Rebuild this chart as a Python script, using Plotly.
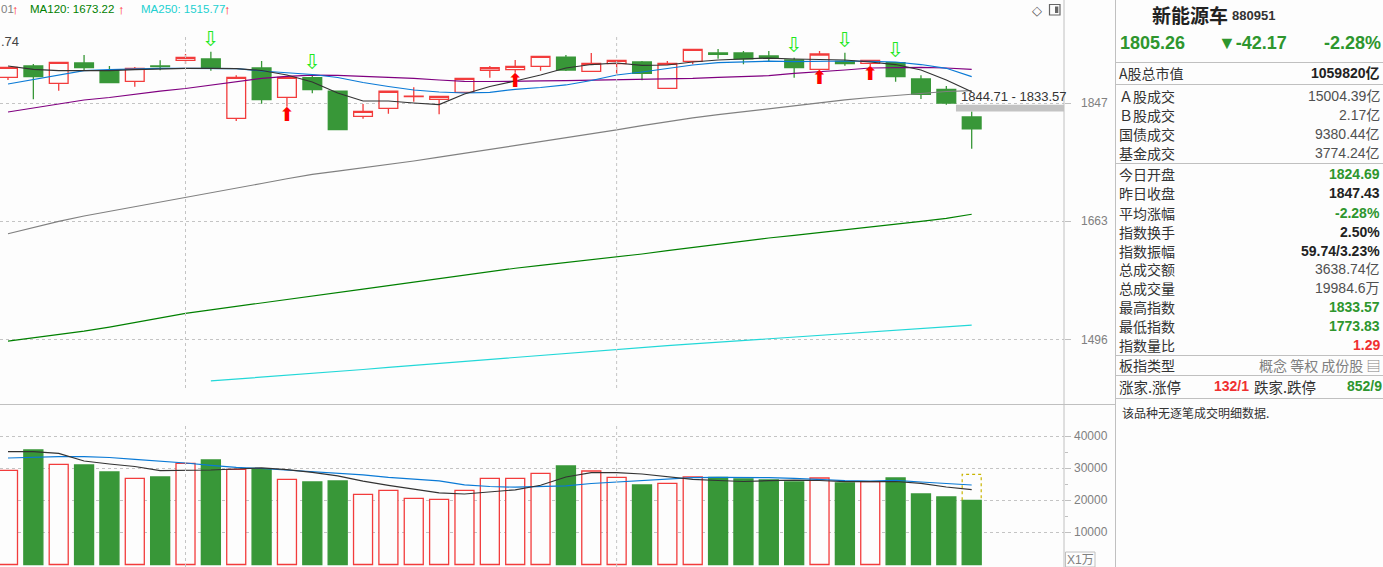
import math
import plotly.graph_objects as go

# ---------------- data ----------------
opens = [1890.3, 1909.4, 1880.2, 1914.5, 1901.4, 1883.5, 1909.4, 1919.1, 1921.3, 1822.5,
         1906.0, 1856.9, 1889.6, 1867.3, 1825.7, 1838.8, 1858.0, 1853.6, 1865.2, 1902.1,
         1903.1, 1908.9, 1924.7, 1900.4, 1913.3, 1916.2, 1871.8, 1917.4, 1931.6, 1931.6,
         1926.5, 1919.6, 1903.8, 1917.4, 1914.0, 1915.0, 1887.4, 1870.2, 1824.69]
highs = [1907.7, 1912.8, 1916.0, 1928.2, 1909.4, 1907.7, 1919.1, 1929.9, 1933.8, 1893.6,
         1917.9, 1892.5, 1895.8, 1867.3, 1845.8, 1866.9, 1873.5, 1859.0, 1888.6, 1909.4,
         1919.6, 1925.9, 1928.2, 1931.6, 1919.1, 1917.9, 1917.9, 1938.0, 1938.5, 1935.0,
         1935.0, 1923.5, 1935.0, 1932.1, 1919.1, 1916.0, 1893.6, 1875.7, 1833.57]
lows = [1885.7, 1853.6, 1867.9, 1902.6, 1881.2, 1874.5, 1902.1, 1912.8, 1901.4, 1818.1,
        1846.3, 1841.4, 1863.5, 1804.1, 1821.8, 1830.0, 1849.6, 1829.0, 1865.2, 1889.6,
        1898.0, 1901.4, 1900.9, 1900.4, 1895.8, 1885.2, 1871.8, 1912.3, 1921.8, 1912.3,
        1917.4, 1889.6, 1903.8, 1909.9, 1909.4, 1882.9, 1854.1, 1844.71, 1773.83]
closes = [1907.2, 1891.3, 1915.7, 1906.5, 1881.2, 1905.5, 1908.4, 1924.2, 1906.0, 1890.3,
          1852.9, 1890.3, 1869.5, 1804.1, 1833.9, 1866.9, 1858.9, 1858.5, 1888.6, 1906.5,
          1908.9, 1925.9, 1902.6, 1914.0, 1919.1, 1897.0, 1914.0, 1938.0, 1929.4, 1921.8,
          1923.0, 1906.5, 1929.9, 1913.3, 1919.1, 1891.3, 1861.9, 1847.43, 1805.26]

ma5 = [1909.4, 1903.8, 1901.4, 1901.4, 1901.4, 1903.1, 1904.8, 1905.5, 1905.5, 1904.8,
       1901.8, 1894.2, 1882.4, 1864.0, 1850.8, 1850.8, 1847.5, 1845.0, 1862.4, 1874.9,
       1884.1, 1894.2, 1906.0, 1911.9, 1914.5, 1910.6, 1911.1, 1916.2, 1919.6, 1920.8,
       1923.0, 1921.3, 1920.8, 1919.6, 1916.2, 1911.9, 1902.6, 1885.7, 1866.0]
ma10 = [1879.0, 1886.6, 1895.0, 1901.4, 1903.4, 1904.6, 1905.5, 1905.5, 1905.5, 1905.1,
        1900.9, 1898.0, 1895.0, 1889.9, 1881.5, 1874.9, 1869.0, 1865.7, 1864.0, 1864.9,
        1870.2, 1873.2, 1877.4, 1884.9, 1894.2, 1899.2, 1905.1, 1911.1, 1915.3, 1916.7,
        1917.6, 1916.7, 1917.9, 1917.9, 1917.4, 1916.2, 1911.9, 1905.5, 1891.3]
ma20 = [1832.7, 1839.3, 1845.8, 1852.4, 1856.6, 1862.4, 1867.3, 1871.5, 1877.4, 1883.2,
        1888.3, 1892.0, 1893.8, 1893.6, 1892.0, 1890.8, 1888.3, 1885.7, 1883.5, 1883.2,
        1884.1, 1884.1, 1884.6, 1885.2, 1886.9, 1886.9, 1886.9, 1888.3, 1890.3, 1891.3,
        1893.0, 1897.0, 1899.2, 1902.6, 1906.0, 1907.2, 1907.2, 1906.0, 1903.8]
ma60 = [1644.4, 1653.6, 1662.7, 1670.6, 1677.4, 1684.2, 1691.1, 1697.9, 1705.2, 1712.3,
        1719.7, 1726.9, 1733.8, 1738.6, 1743.7, 1749.0, 1754.5, 1760.4, 1766.4, 1772.5,
        1778.9, 1785.0, 1791.3, 1797.7, 1803.9, 1810.7, 1817.5, 1823.3, 1828.3, 1833.2,
        1838.3, 1843.2, 1848.2, 1852.8, 1856.6, 1860.0, 1863.7, 1866.5, 1868.01]
ma120 = [1494.3, 1498.7, 1503.3, 1507.7, 1513.2, 1519.4, 1525.7, 1531.8, 1536.6, 1541.2,
         1546.0, 1550.9, 1555.6, 1560.4, 1565.2, 1570.2, 1575.2, 1580.2, 1585.2, 1590.2,
         1594.6, 1598.6, 1602.6, 1606.6, 1610.4, 1615.0, 1619.8, 1624.5, 1629.3, 1634.1,
         1638.2, 1642.0, 1646.0, 1649.9, 1653.8, 1657.7, 1662.5, 1667.1, 1673.22]
ma250 = [None, None, None, None, None, None, None, None, 1442.3, 1444.6,
         1447.2, 1449.6, 1452.1, 1454.5, 1457.1, 1459.9, 1462.5, 1465.2, 1467.9, 1470.7,
         1473.3, 1475.9, 1478.6, 1481.2, 1483.9, 1486.1, 1488.5, 1490.7, 1493.0, 1495.4,
         1497.6, 1499.9, 1502.2, 1504.6, 1506.9, 1509.2, 1511.5, 1513.8, 1515.77]

volume = [29350, 35670, 31210, 31000, 28820, 26850, 27260, 31530, 32550, 29660,
          29750, 26540, 25700, 26010, 21870, 23120, 20620, 20310, 23120, 26850,
          26850, 28410, 30690, 29130, 27170, 24770, 25300, 27260, 27170, 26640,
          26320, 25700, 26950, 25390, 25790, 26950, 21960, 21030, 19984.6]
vol_ma5 = [35140, 35140, 34640, 32240, 31310, 30530, 29220, 29220, 29440, 29750,
           30120, 29530, 28720, 27630, 25950, 24640, 23520, 22300, 21960, 22680,
           23270, 24700, 27260, 28600, 28600, 28190, 27260, 26540, 26170, 25860,
           26110, 26260, 26170, 25790, 25790, 25860, 25300, 24140, 23300]
vol_ma10 = [33180, 33430, 33580, 33580, 33330, 32770, 32240, 31620, 30900, 30250,
            29910, 29440, 29000, 28500, 27940, 27170, 26640, 26070, 24830, 24300,
            24080, 24240, 24520, 25230, 25700, 26170, 26640, 27040, 27130, 27130,
            27040, 26820, 26480, 26110, 26010, 26230, 25700, 25230, 24770]
vol_forecast = 28100

sell_signals = [8, 12, 31, 33, 35]
buy_signals = [11, 20, 32, 34]
month_separators = [7, 24]
price_ticks = [1847, 1663, 1496]
vol_ticks = [10000, 20000, 30000, 40000]
vol_minor_ticks = [15000, 25000, 35000]
gap_high = 1844.71
gap_low = 1833.57

info_labels = ["A股总市值", "Ａ股成交", "Ｂ股成交", "国债成交", "基金成交", "今日开盘", "昨日收盘",
               "平均涨幅", "指数换手", "指数振幅", "总成交额", "总成交量", "最高指数", "最低指数",
               "指数量比", "板指类型"]
info_values = ["1059820亿", "15004.39亿", "2.17亿", "9380.44亿", "3774.24亿", "1824.69", "1847.43",
               "-2.28%", "2.50%", "59.74/3.23%", "3638.74亿", "19984.6万", "1833.57", "1773.83",
               "1.29", "概念 等权 成份股 ▤"]

# ---------------- style ----------------
BG = "#fdfdfd"
RED = "#f23c3c"
GREEN = "#389738"
GRID = "#c4c4c4"
AXIS = "#c0c0c0"
W, H, PW = 1383, 567, 1064
NUM = "Liberation Sans, Arial, Noto Sans CJK SC, DejaVu Sans"
CJK = "Noto Sans CJK SC, sans-serif"

x = list(range(len(closes)))
up = [c >= o for o, c in zip(opens, closes)]

fig = go.Figure()

fig.add_trace(go.Candlestick(
    x=x, open=opens, high=highs, low=lows, close=closes,
    increasing=dict(line=dict(color=RED, width=1.3), fillcolor=BG),
    decreasing=dict(line=dict(color=GREEN, width=1.3), fillcolor=GREEN),
    whiskerwidth=0, xaxis="x", yaxis="y", showlegend=False, hoverinfo="skip"))

# gap band
last = len(closes) - 1
fig.add_trace(go.Scatter(
    x=[last - 0.62, 41.64, 41.64, last - 0.62], y=[gap_high, gap_high, gap_low, gap_low],
    fill="toself", fillcolor="#c3c3c3", line=dict(width=0), mode="lines",
    xaxis="x", yaxis="y", showlegend=False, hoverinfo="skip"))

for arr, col in [(ma60, "#808080"), (ma120, "#008000"), (ma250, "#22d8d8"),
                 (ma20, "#800080"), (ma10, "#0a7ad6"), (ma5, "#333333")]:
    fig.add_trace(go.Scatter(x=x, y=arr, mode="lines", line=dict(color=col, width=1.2),
                             xaxis="x", yaxis="y", showlegend=False, hoverinfo="skip"))

fig.add_trace(go.Scatter(
    x=sell_signals, y=[highs[i] for i in sell_signals], mode="text", text=["⇩"] * len(sell_signals),
    textposition="top center", textfont=dict(color="#1ee81e", size=21, family="DejaVu Sans"),
    xaxis="x", yaxis="y", showlegend=False, hoverinfo="skip"))
fig.add_trace(go.Scatter(
    x=buy_signals, y=[lows[i] for i in buy_signals], mode="text", text=["⬆"] * len(buy_signals),
    textposition="bottom center", textfont=dict(color="#ff0000", size=19, family="DejaVu Sans"),
    xaxis="x", yaxis="y", showlegend=False, hoverinfo="skip"))

# volume
fig.add_trace(go.Bar(
    x=x, y=volume,
    marker=dict(color=[BG if u else GREEN for u in up],
                line=dict(color=[RED if u else GREEN for u in up], width=1.3)),
    xaxis="x2", yaxis="y2", showlegend=False, hoverinfo="skip"))
hw = 0.375
fig.add_trace(go.Scatter(
    x=[last - hw, last - hw, last + hw, last + hw],
    y=[volume[-1], vol_forecast, vol_forecast, volume[-1]],
    mode="lines", line=dict(color="#c8b400", width=1.2, dash="dot"),
    xaxis="x2", yaxis="y2", showlegend=False, hoverinfo="skip"))
for arr, col in [(vol_ma10, "#0a7ad6"), (vol_ma5, "#333333")]:
    fig.add_trace(go.Scatter(x=x, y=arr, mode="lines", line=dict(color=col, width=1.2),
                             xaxis="x2", yaxis="y2", showlegend=False, hoverinfo="skip"))


def px(v):
    return v / PW


def py(v):
    return (H - v) / H


ann = []


def txt(xp, yp, s, color="#333333", size=14, anchor="left", family=NUM):
    ann.append(dict(xref="paper", yref="paper", x=px(xp), y=py(yp), text=s, xanchor=anchor,
                    yanchor="middle", showarrow=False, borderpad=0,
                    font=dict(color=color, size=size, family=family)))


# tick labels
for v in price_ticks:
    ann.append(dict(xref="paper", yref="y", x=px(1110), y=math.log10(v), text=str(v), xanchor="right",
                    yanchor="middle", showarrow=False, font=dict(color="#808080", size=12, family=NUM)))
for v in vol_ticks:
    ann.append(dict(xref="paper", yref="y2", x=px(1110), y=v, text=str(v), xanchor="right",
                    yanchor="middle", showarrow=False, font=dict(color="#808080", size=12, family=NUM)))

# gap label
ann.append(dict(xref="x", yref="y", x=last - 0.5, y=math.log10(gap_high), text="1844.71 - 1833.57",
                xanchor="left", yanchor="bottom", showarrow=False, yshift=-1,
                font=dict(color="#333333", size=13, family="Liberation Sans Narrow, Liberation Sans")))

# MA legend
txt(0, 9, "01", "#808080", 11.5)
txt(11, 9, "↑", "#ff2020", 13)
txt(29, 9, "MA120: 1673.22", "#008000", 11.5)
txt(117, 9, "↑", "#ff2020", 13)
txt(140, 9, "MA250: 1515.77", "#22d0d0", 11.5)
txt(223, 9, "↑", "#ff2020", 13)
txt(0, 41, ".74", "#444444", 13)
txt(1037, 10, "◇", "#555555", 13, "center", "DejaVu Sans")
txt(1080, 559.5, "X1万", "#808080", 12, "center", "Liberation Sans, Noto Sans CJK SC")

# right info panel
txt(1151, 14, "<b>新能源车</b>", "#222222", 19, "left", CJK)
txt(1231, 15.5, "<b>880951</b>", "#333333", 13)
txt(1119, 43, "<b>1805.26</b>", "#2e962e", 18)
txt(1217, 43, "<b>▼-42.17</b>", "#2e962e", 18, "left", "Liberation Sans, DejaVu Sans")
txt(1382, 43, "<b>-2.28%</b>", "#2e962e", 18, "right")

info_y = [73.3, 95.7, 115, 134, 152.7, 174.3, 192.7, 212.7, 231.7, 250.7, 269.3, 288.3,
          307.3, 326, 345, 365]
val_style = ["b#222222", "n#505050", "n#505050", "n#505050", "n#505050", "b#2e962e", "b#222222",
             "b#2e962e", "b#222222", "b#222222", "n#505050", "n#505050", "b#2e962e", "b#2e962e",
             "b#f03030", "n#808080"]
for lab, val, yy, st in zip(info_labels, info_values, info_y, val_style):
    txt(1118, yy, lab, "#333333", 14, "left", CJK)
    s = "<b>%s</b>" % val if st[0] == "b" else val
    fam = CJK if lab == "板指类型" else NUM
    txt(1381, yy, s, st[1:], 14, "right", fam)

txt(1118, 386, "涨家.涨停", "#333333", 14.5, "left", CJK)
txt(1213, 386, "<b>132/1</b>", "#f03030", 14)
txt(1253, 386, "跌家.跌停", "#333333", 14.5, "left", CJK)
txt(1383, 386, "<b>852/9</b>", "#2e962e", 14, "right")
txt(1121, 412, "该品种无逐笔成交明细数据.", "#333333", 12, "left", CJK)

# shapes
shapes = []


def pline(x0, y0, x1, y1, color=AXIS, width=1):
    shapes.append(dict(type="line", xref="paper", yref="paper", x0=px(x0), y0=py(y0), x1=px(x1),
                       y1=py(y1), line=dict(color=color, width=width)))


pline(1064, 0, 1064, 567)
pline(1115.5, 0, 1115.5, 567)
pline(0, 404.5, 1115.5, 404.5)
for yy in [62.5, 84.5, 163.5, 355.5, 375.5, 398.5]:
    pline(1115.5, yy, 1383, yy)
for m in month_separators:
    shapes.append(dict(type="line", xref="x", yref="paper", x0=m, x1=m, y0=py(388), y1=py(35),
                       line=dict(color=GRID, width=1, dash="dot")))
    shapes.append(dict(type="line", xref="x", yref="paper", x0=m, x1=m, y0=0, y1=py(424),
                       line=dict(color=GRID, width=1, dash="dot")))
shapes.append(dict(type="rect", xref="paper", yref="paper", x0=px(1065.5), x1=px(1095), y0=py(567),
                   y1=py(552), line=dict(color=AXIS, width=1)))
shapes.append(dict(type="rect", xref="paper", yref="paper", x0=px(1049.5), x1=px(1060), y0=py(15),
                   y1=py(4.5), line=dict(color="#666666", width=1.2)))
shapes.append(dict(type="rect", xref="paper", yref="paper", x0=px(1055), x1=px(1058.3), y0=py(13),
                   y1=py(6.5), fillcolor="#666666", line=dict(width=0)))

top_log = math.log10(1847) + 103.3 / 2585
bot_log = math.log10(1847) - 300.7 / 2585

fig.update_layout(
    width=W, height=H, paper_bgcolor=BG, plot_bgcolor=BG,
    margin=dict(l=0, r=W - PW, t=0, b=0),
    showlegend=False, bargap=0.25, boxgap=0.26, boxgroupgap=0,
    xaxis=dict(domain=[0, 1], range=[-0.315, 41.64], anchor="y", showgrid=False, zeroline=False,
               showticklabels=False, showline=False, rangeslider=dict(visible=False), fixedrange=True),
    xaxis2=dict(domain=[0, 1], range=[-0.315, 41.64], anchor="y2", matches="x", showgrid=False,
                zeroline=False, showticklabels=False, showline=False, fixedrange=True),
    yaxis=dict(domain=[(H - 404) / H, 1], type="log", range=[bot_log, top_log], side="right",
               anchor="x", tickvals=price_ticks, showticklabels=False, ticks="outside", ticklen=6,
               tickcolor=AXIS, showgrid=True, gridcolor=GRID, griddash="dot", zeroline=False,
               showline=False, fixedrange=True),
    yaxis2=dict(domain=[0, (H - 405) / H], range=[-779, 49690], side="right", anchor="x2",
                tickvals=vol_ticks, showticklabels=False, ticks="outside", ticklen=6, tickcolor=AXIS,
                minor=dict(tickvals=vol_minor_ticks, ticks="outside", ticklen=3, tickcolor=AXIS,
                           showgrid=False),
                showgrid=True, gridcolor=GRID, griddash="dot", zeroline=False, showline=False,
                fixedrange=True),
    annotations=ann, shapes=shapes,
)

fig.write_html("out.html", config={"displayModeBar": False},
               post_script="document.body.style.margin='0px';document.body.style.overflow='hidden';")
